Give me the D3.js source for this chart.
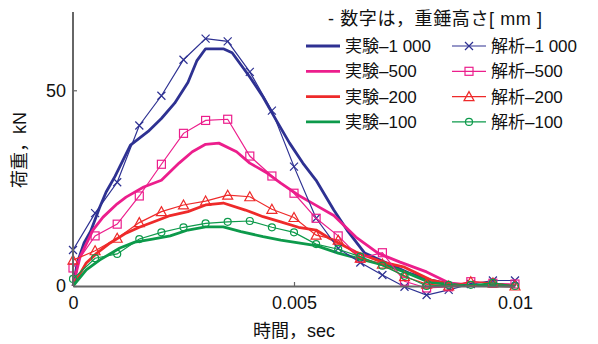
<!DOCTYPE html>
<html>
<head>
<meta charset="utf-8">
<script src="https://cdn.jsdelivr.net/npm/d3@7"></script>
<style>
  body { margin: 0; background: #fff; }
  text { font-family: "Liberation Sans", "Noto Sans CJK JP", sans-serif; fill: #111; }
</style>
</head>
<body>
<div id="chart"></div>
<script>
// analysis sample times, sec
const tAnalysis = [0, 0.0005, 0.001, 0.0015, 0.002, 0.0025, 0.003, 0.0035, 0.004, 0.0045, 0.005,
  0.0055, 0.006, 0.0065, 0.007, 0.0075, 0.008, 0.0085, 0.009, 0.0095, 0.01]

const ana1000 = [9.2, 18.6, 26.5, 41, 48.6, 57.8, 63.2, 62.5, 54.7, 44.8, 30.5, 17.3, 9.6, 6, 2.8, -0.2, -2.3, -1, 0.5, 1.4, 1.4]
const ana500 = [4.6, 12.8, 15.8, 23, 31.1, 39, 42.3, 42.6, 33.2, 28.1, 23.7, 17.3, 12.8, 7.1, 8.5, 1.2, -0.5, -0.2, 1.1, 0.7, 0.5]
const ana200 = [6.6, 9, 12.2, 16.2, 19, 20.7, 21.7, 23.2, 22.8, 19.6, 17.5, 13, 11.7, 7.1, 5.6, 2.4, 0.5, 0, 1.1, 0.8, 0]
const ana100 = [1.8, 7.1, 8.2, 12, 13.7, 15, 16, 16.4, 16.6, 15, 13.7, 10.7, 9.4, 7.5, 5.2, 2.6, 0, 0.3, 0.3, 0.8, 0]

// experiment, [sec, kN]
const exp1000 = [[0, 0], [0.0001, 6], [0.00025, 11], [0.0004, 14], [0.0006, 20], [0.00075, 24], [0.00095, 28],
  [0.0013, 36], [0.0017, 39.5], [0.002, 42.8], [0.0023, 46.7], [0.0026, 52], [0.0028, 57.5], [0.003, 60.6],
  [0.0034, 60.6], [0.0036, 59.6], [0.004, 53.4], [0.0043, 48.3], [0.0046, 42.3], [0.0049, 36.5], [0.0052, 31.4],
  [0.0055, 27], [0.0059, 19.4], [0.0062, 14.3], [0.0066, 8.4], [0.0071, 5.9], [0.0076, 3.3], [0.0081, 1.5],
  [0.0086, 0.3], [0.009, 0.2], [0.0095, 0.1], [0.01, 0]]
const exp500 = [[0, 0], [0.00016, 7.4], [0.00045, 14.3], [0.00068, 17.6], [0.001, 21], [0.0012, 22.7], [0.0016, 25.3],
  [0.002, 27], [0.0024, 31.4], [0.0027, 34.3], [0.003, 36.2], [0.0033, 36.5], [0.0037, 34.3], [0.004, 31.4],
  [0.0044, 28.8], [0.0047, 26.3], [0.0051, 23.2], [0.0055, 20.6], [0.0059, 18], [0.0064, 12.5], [0.0069, 8.4],
  [0.0074, 6.1], [0.008, 3.6], [0.0085, 0.8], [0.009, 0.2], [0.01, 0]]
const exp200 = [[0, 0], [0.0003, 5.9], [0.00054, 8.4], [0.00084, 11], [0.0012, 13.5], [0.0015, 15], [0.0018, 16.3],
  [0.0022, 18], [0.0026, 19], [0.003, 20.7], [0.0034, 21.2], [0.0039, 19.4], [0.0043, 17.7], [0.0047, 16.4],
  [0.0051, 15], [0.0055, 14.3], [0.0058, 12.2], [0.0064, 8.7], [0.007, 6.1], [0.0075, 4.8], [0.0081, 1.5],
  [0.0086, 0.3], [0.0092, 0.1], [0.01, 0]]
const exp100 = [[0, 0], [0.0003, 4.1], [0.0006, 6.6], [0.00106, 9.7], [0.0014, 11.2], [0.0018, 12], [0.0022, 12.8],
  [0.0026, 14.3], [0.003, 15.1], [0.0034, 15.1], [0.0038, 13.9], [0.0043, 12.6], [0.0047, 11.7], [0.0051, 11],
  [0.0055, 10.3], [0.006, 8.4], [0.0066, 6.6], [0.0072, 4.8], [0.0075, 3.6], [0.0081, 0.8], [0.0088, 0.2], [0.01, 0]]

const colors = { c1000: "#2e3192", c500: "#ec1e8c", c200: "#ee2a2a", c100: "#0d9a4b" }

const series = [
  { name: "1 000", color: colors.c1000, exp: exp1000, ana: ana1000, marker: "cross" },
  { name: "500", color: colors.c500, exp: exp500, ana: ana500, marker: "square" },
  { name: "200", color: colors.c200, exp: exp200, ana: ana200, marker: "triangle" },
  { name: "100", color: colors.c100, exp: exp100, ana: ana100, marker: "circle" },
]

const width = 598
const height = 344
const margin = { top: 12, right: 83, bottom: 58, left: 73 }

const svg = d3.select("#chart").append("svg")
  .attr("width", width)
  .attr("height", height)

const x = d3.scaleLinear().domain([0, 0.01]).range([margin.left, width - margin.right])
const y = d3.scaleLinear().domain([0, 70]).range([height - margin.bottom, margin.top])

const line = d3.line().x(d => x(d[0])).y(d => y(d[1]))

function drawMarker(g, type, cx, cy, color) {
  if (type === "cross") {
    g.append("path")
      .attr("d", `M${cx - 4},${cy - 4}L${cx + 4},${cy + 4}M${cx - 4},${cy + 4}L${cx + 4},${cy - 4}`)
      .attr("stroke", color).attr("stroke-width", 1.2)
  } else if (type === "square") {
    g.append("rect").attr("x", cx - 4).attr("y", cy - 4).attr("width", 8).attr("height", 8)
      .attr("fill", "none").attr("stroke", color).attr("stroke-width", 1.2)
  } else if (type === "triangle") {
    g.append("path").attr("d", `M${cx},${cy - 5}L${cx + 5},${cy + 4}L${cx - 5},${cy + 4}Z`)
      .attr("fill", "none").attr("stroke", color).attr("stroke-width", 1.2)
  } else {
    g.append("circle").attr("cx", cx).attr("cy", cy).attr("r", 3.5)
      .attr("fill", "none").attr("stroke", color).attr("stroke-width", 1.2)
  }
}

// experiment curves
series.forEach(s => {
  svg.append("path")
    .datum(s.exp)
    .attr("d", line)
    .attr("fill", "none")
    .attr("stroke", s.color)
    .attr("stroke-width", 2.8)
    .attr("stroke-linejoin", "round")
})

// analysis curves
series.forEach(s => {
  const pts = tAnalysis.map((t, i) => [t, s.ana[i]])
  svg.append("path")
    .datum(pts)
    .attr("d", line)
    .attr("fill", "none")
    .attr("stroke", s.color)
    .attr("stroke-width", 1.2)
  const g = svg.append("g")
  pts.forEach(p => drawMarker(g, s.marker, x(p[0]), y(p[1]), s.color))
})

// axes
const xAxis = svg.append("g")
  .attr("transform", `translate(0,${y(0)})`)
  .call(d3.axisBottom(x).tickValues([0, 0.005, 0.01]).tickFormat(d => d === 0 ? "0" : String(d))
    .tickSizeInner(-4).tickSizeOuter(0).tickPadding(10))
const yAxis = svg.append("g")
  .attr("transform", `translate(${x(0)},0)`)
  .call(d3.axisLeft(y).tickValues([0, 50]).tickSizeInner(-4).tickSizeOuter(0).tickPadding(7))

;[xAxis, yAxis].forEach(a => {
  a.select(".domain").attr("stroke", "#666").attr("stroke-width", 2)
  a.selectAll(".tick line").attr("stroke", "#666").attr("stroke-width", 1.2)
  a.selectAll(".tick text").attr("font-size", 18).attr("fill", "#111")
})
yAxis.select(".domain").attr("d", `M0,${y(70)}V${y(0)}`)

svg.append("text")
  .attr("x", x(0.005))
  .attr("y", 337)
  .attr("text-anchor", "middle")
  .attr("font-size", 18)
  .text("時間，sec")

svg.append("text")
  .attr("transform", `translate(26,${150}) rotate(-90)`)
  .attr("text-anchor", "middle")
  .attr("font-size", 18)
  .text("荷重，kN")

// legend
const legend = svg.append("g")
legend.append("text")
  .attr("x", 328).attr("y", 25)
  .attr("font-size", 18)
  .attr("letter-spacing", 0.6)
  .text("- 数字は，重錘高さ[ mm ]")

series.forEach((s, i) => {
  const ly = 46 + i * 25.3
  legend.append("line").attr("x1", 306).attr("x2", 340).attr("y1", ly).attr("y2", ly)
    .attr("stroke", s.color).attr("stroke-width", 2.8)
  legend.append("text").attr("x", 345).attr("y", ly + 6).attr("font-size", 17).text("実験–" + s.name)
  legend.append("line").attr("x1", 452).attr("x2", 486).attr("y1", ly).attr("y2", ly)
    .attr("stroke", s.color).attr("stroke-width", 1.2)
  drawMarker(legend, s.marker, 469, ly, s.color)
  legend.append("text").attr("x", 491).attr("y", ly + 6).attr("font-size", 17).text("解析–" + s.name)
})
</script>
</body>
</html>
